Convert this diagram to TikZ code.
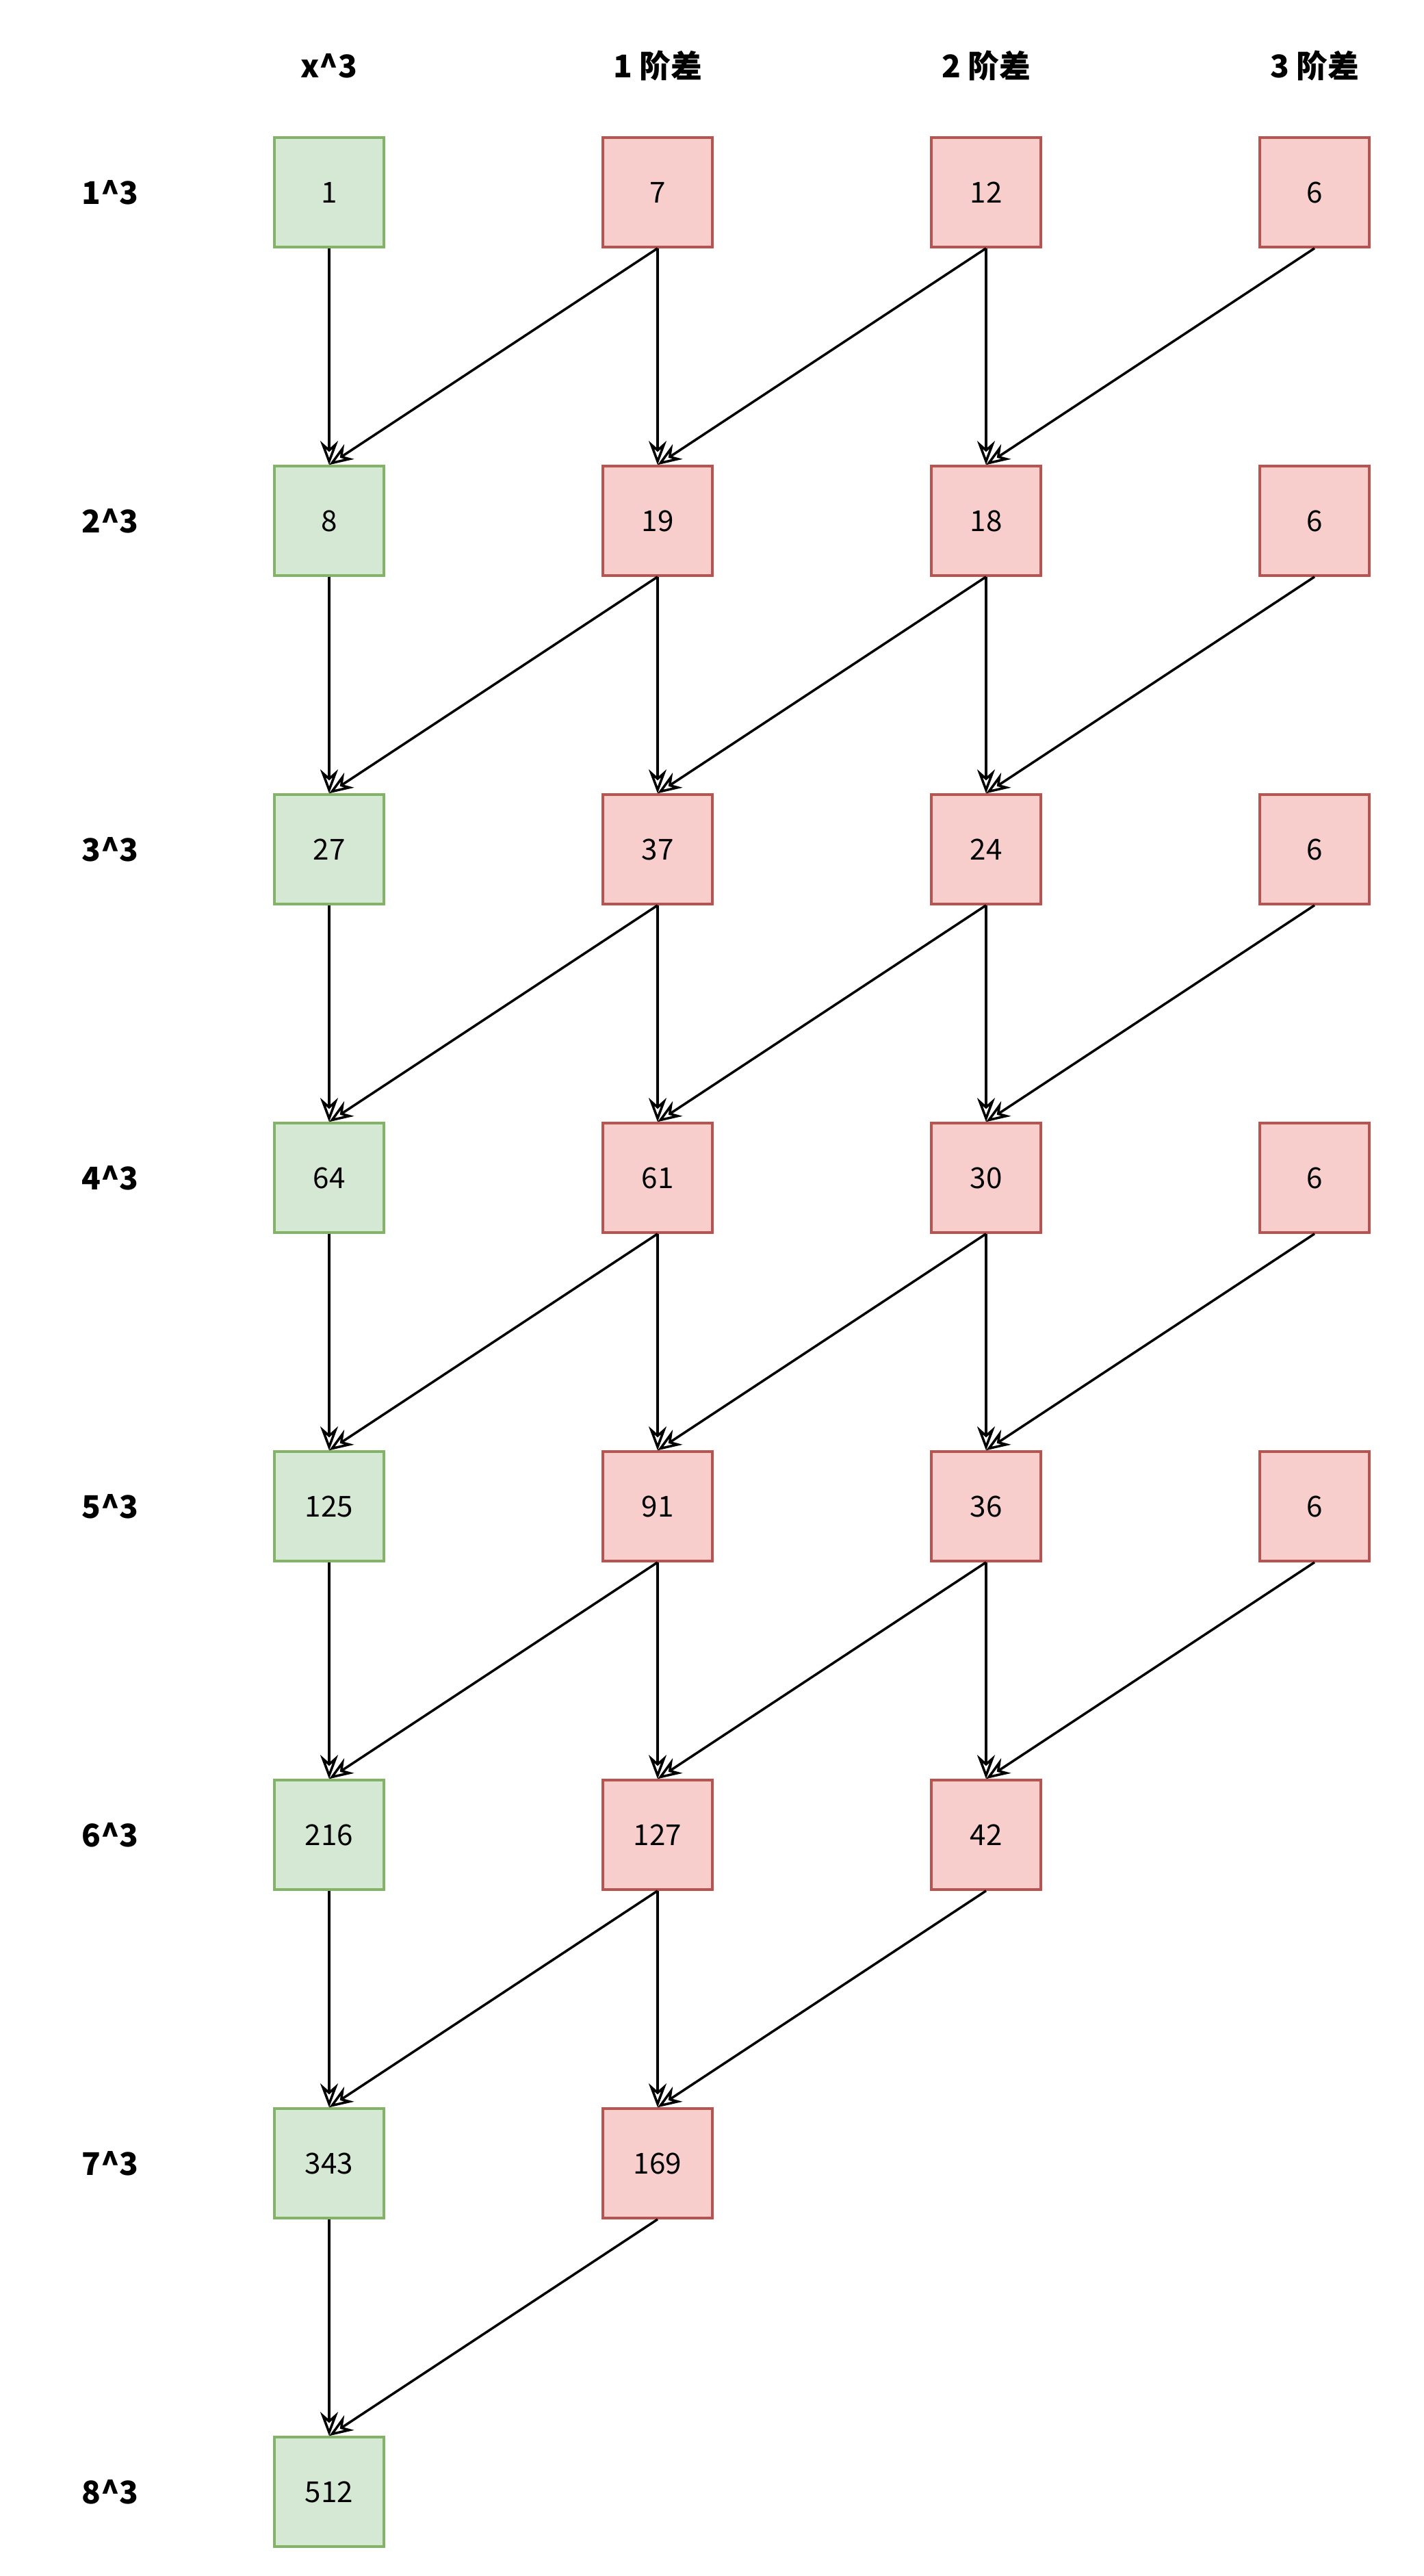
\documentclass[tikz,border=0pt]{standalone}
\usepackage{fontspec}
\setmainfont{Noto Sans CJK SC}
\usepackage{tikz}
\usetikzlibrary{arrows.meta, positioning}
\definecolor{cubefill}{HTML}{D5E8D4}
\definecolor{cubeline}{HTML}{82B366}
\definecolor{difffill}{HTML}{F8CECC}
\definecolor{diffline}{HTML}{B85450}
\tikzset{
    cubenode/.style={rectangle, draw=cubeline, fill=cubefill, line width=1pt, minimum size=1.6cm, inner sep=1pt, font=\fontsize{12}{14}\selectfont},
    diffnode/.style={rectangle, draw=diffline, fill=difffill, line width=1pt, minimum size=1.6cm, inner sep=1pt, font=\fontsize{12}{14}\selectfont},
    headnode/.style={draw=none, inner sep=1pt, font=\bfseries\fontsize{13}{15}\selectfont}
}

\begin{document}
\begin{tikzpicture}[>={Stealth[open, length=3.5mm, width=2.6mm]}, line width=1pt]
\useasboundingbox (0,0) rectangle (20.8,-37.64);
% column headers and row labels
  \node[headnode] (hx) at (4.81, -0.96) {x\^{}3};
  \node[headnode] (ha) at (9.61, -0.96) {1 阶差};
  \node[headnode] (hb) at (14.41, -0.96) {2 阶差};
  \node[headnode] (hc) at (19.21, -0.96) {3 阶差};
  \node[headnode] (l1) at (1.61, -2.81) {1\^{}3};
  \node[headnode] (l2) at (1.61, -7.61) {2\^{}3};
  \node[headnode] (l3) at (1.61, -12.41) {3\^{}3};
  \node[headnode] (l4) at (1.61, -17.21) {4\^{}3};
  \node[headnode] (l5) at (1.61, -22.01) {5\^{}3};
  \node[headnode] (l6) at (1.61, -26.81) {6\^{}3};
  \node[headnode] (l7) at (1.61, -31.61) {7\^{}3};
  \node[headnode] (l8) at (1.61, -36.41) {8\^{}3};
% cubes
  \node[cubenode] (x1) at (4.81, -2.81) {1};
  \node[cubenode] (x2) at (4.81, -7.61) {8};
  \node[cubenode] (x3) at (4.81, -12.41) {27};
  \node[cubenode] (x4) at (4.81, -17.21) {64};
  \node[cubenode] (x5) at (4.81, -22.01) {125};
  \node[cubenode] (x6) at (4.81, -26.81) {216};
  \node[cubenode] (x7) at (4.81, -31.61) {343};
  \node[cubenode] (x8) at (4.81, -36.41) {512};
% first differences
  \node[diffnode] (a1) at (9.61, -2.81) {7};
  \node[diffnode] (a2) at (9.61, -7.61) {19};
  \node[diffnode] (a3) at (9.61, -12.41) {37};
  \node[diffnode] (a4) at (9.61, -17.21) {61};
  \node[diffnode] (a5) at (9.61, -22.01) {91};
  \node[diffnode] (a6) at (9.61, -26.81) {127};
  \node[diffnode] (a7) at (9.61, -31.61) {169};
% second differences
  \node[diffnode] (b1) at (14.41, -2.81) {12};
  \node[diffnode] (b2) at (14.41, -7.61) {18};
  \node[diffnode] (b3) at (14.41, -12.41) {24};
  \node[diffnode] (b4) at (14.41, -17.21) {30};
  \node[diffnode] (b5) at (14.41, -22.01) {36};
  \node[diffnode] (b6) at (14.41, -26.81) {42};
% third differences
  \node[diffnode] (c1) at (19.21, -2.81) {6};
  \node[diffnode] (c2) at (19.21, -7.61) {6};
  \node[diffnode] (c3) at (19.21, -12.41) {6};
  \node[diffnode] (c4) at (19.21, -17.21) {6};
  \node[diffnode] (c5) at (19.21, -22.01) {6};
% sums
  \draw[->] (x1.south) -- (x2.north);
  \draw[->] (a1.south) -- (x2.north);
  \draw[->] (a1.south) -- (a2.north);
  \draw[->] (b1.south) -- (a2.north);
  \draw[->] (b1.south) -- (b2.north);
  \draw[->] (c1.south) -- (b2.north);
  \draw[->] (x2.south) -- (x3.north);
  \draw[->] (a2.south) -- (x3.north);
  \draw[->] (a2.south) -- (a3.north);
  \draw[->] (b2.south) -- (a3.north);
  \draw[->] (b2.south) -- (b3.north);
  \draw[->] (c2.south) -- (b3.north);
  \draw[->] (x3.south) -- (x4.north);
  \draw[->] (a3.south) -- (x4.north);
  \draw[->] (a3.south) -- (a4.north);
  \draw[->] (b3.south) -- (a4.north);
  \draw[->] (b3.south) -- (b4.north);
  \draw[->] (c3.south) -- (b4.north);
  \draw[->] (x4.south) -- (x5.north);
  \draw[->] (a4.south) -- (x5.north);
  \draw[->] (a4.south) -- (a5.north);
  \draw[->] (b4.south) -- (a5.north);
  \draw[->] (b4.south) -- (b5.north);
  \draw[->] (c4.south) -- (b5.north);
  \draw[->] (x5.south) -- (x6.north);
  \draw[->] (a5.south) -- (x6.north);
  \draw[->] (a5.south) -- (a6.north);
  \draw[->] (b5.south) -- (a6.north);
  \draw[->] (b5.south) -- (b6.north);
  \draw[->] (c5.south) -- (b6.north);
  \draw[->] (x6.south) -- (x7.north);
  \draw[->] (a6.south) -- (x7.north);
  \draw[->] (a6.south) -- (a7.north);
  \draw[->] (b6.south) -- (a7.north);
  \draw[->] (x7.south) -- (x8.north);
  \draw[->] (a7.south) -- (x8.north);
\end{tikzpicture}
\end{document}
